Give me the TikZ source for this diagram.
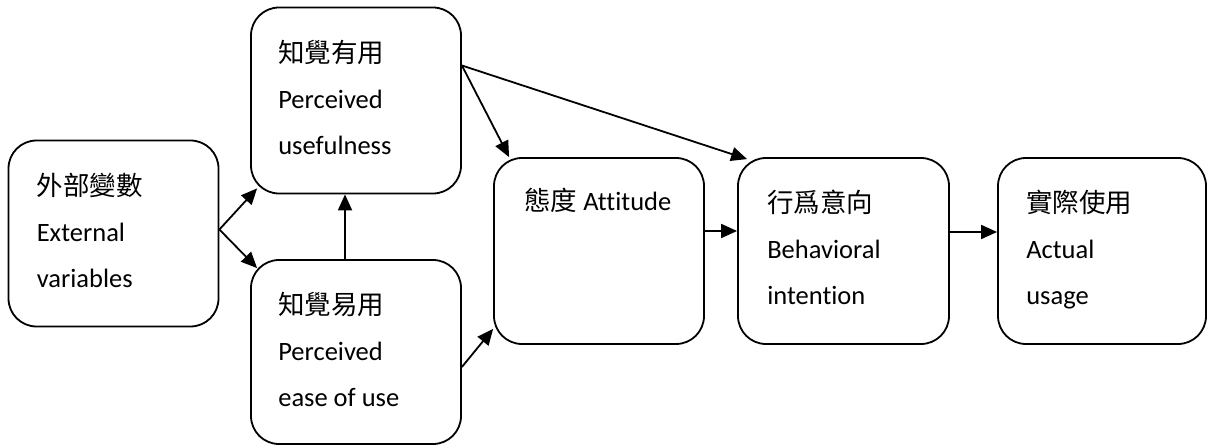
\documentclass[tikz,border=0pt]{standalone}
\usepackage{fontspec}
\setmainfont{Carlito}[Ligatures=NoCommon]
\newfontfamily\cjk{Noto Sans CJK TC}
\usetikzlibrary{calc,arrows.meta}

\begin{document}
\begin{tikzpicture}[
            x=1pt, y=-1pt,
            line join=round,
            >={Triangle[length=16pt,width=14pt]},
            box/.style={draw, line width=1.8pt, rounded corners=28pt,
                        minimum width=210pt, minimum height=186pt,
                        inner sep=0pt},
            txt/.style={anchor=north west, align=left, inner sep=0pt,
                        font=\fontsize{26.5}{46}\selectfont},
            link/.style={line width=1.8pt, ->}
        ]

        \useasboundingbox (0,0) rectangle (1207,446);

        % Boxes
        \node[box] (ext)    at (113.5,233.5) {};
        \node[box] (useful) at (356,100.5) {};
        \node[box, minimum height=184pt] (ease) at (356,352) {};
        \node[box] (att)    at (599,251) {};
        \node[box, minimum width=211pt] (intent) at (843.5,251) {};
        \node[box, minimum width=208pt] (usage)  at (1102,251) {};

        % Box texts
        \node[txt] (extT)    at ($(ext.north west)+(29,33)$)
            {{\cjk 外部變數}\\External\\variables};
        \node[txt] (usefulT) at ($(useful.north west)+(28,33)$)
            {{\cjk 知覺有用}\\Perceived\\usefulness};
        \node[txt] (easeT)   at ($(ease.north west)+(28,33)$)
            {{\cjk 知覺易用}\\Perceived\\ease of use};
        \node[txt] (attT)    at ($(att.north west)+(31,31)$)
            {{\cjk 態度} Attitude};
        \node[txt] (intentT) at ($(intent.north west)+(30,33)$)
            {{\cjk 行爲意向}\\Behavioral\\intention};
        \node[txt] (usageT)  at ($(usage.north west)+(29,33)$)
            {{\cjk 實際使用}\\Actual\\usage};

        % Arrows
        \coordinate (uo) at ($(useful.east)+(0,-35)$);

        \draw[link] ($(ext.east)+(0,-4)$) -- ($(useful.south west)+(7,-6)$);
        \draw[link] ($(ext.east)+(0,-4)$) -- ($(ease.north west)+(7,9)$);
        \draw[link] ($(ease.north)+(-11,0)$) -- ($(useful.south)+(-11,0)$);

        \draw[link] (uo) -- ($(att.north west)+(16,0)$);
        \draw[link] (uo) -- ($(intent.north west)+(10,2)$);
        \draw[link] ($(ease.east)+(0,15)$) -- ($(att.south west)+(0,-16)$);

        \draw[link] ($(att.east)+(0,-20)$) -- ($(intent.west)+(0,-20)$);
        \draw[link] ($(intent.east)+(0,-19)$) -- ($(usage.west)+(0,-19)$);

        \end{tikzpicture}
\end{document}
